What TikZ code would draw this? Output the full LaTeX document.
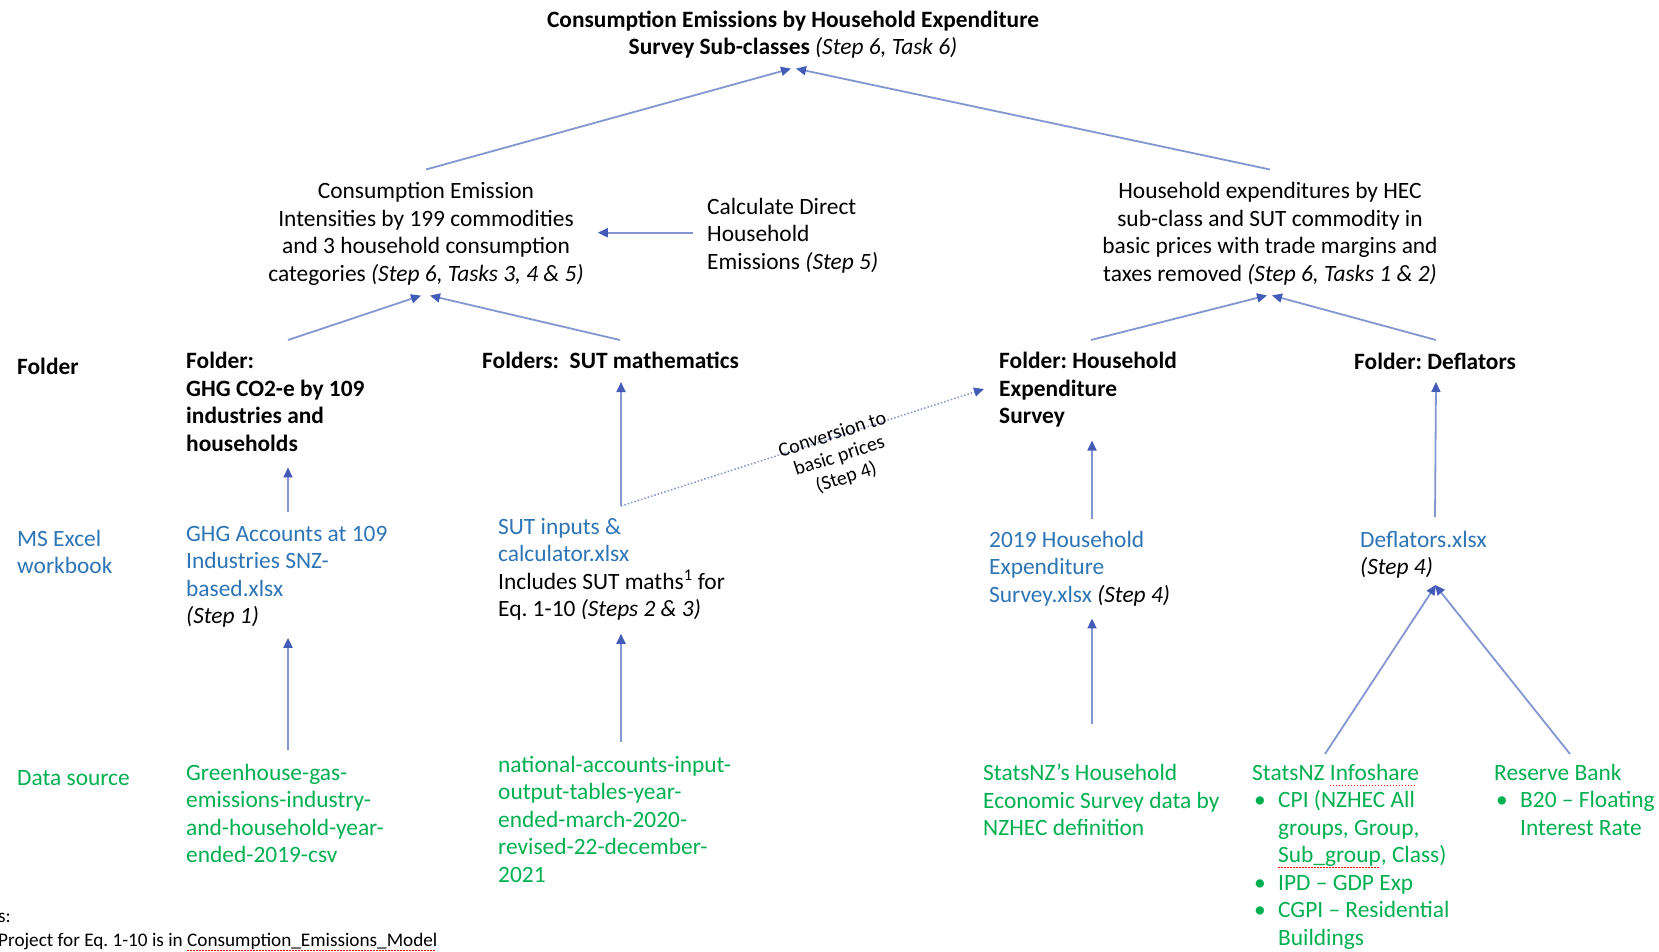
\documentclass[tikz,border=0pt]{standalone}
\usepackage{fontspec}
\setmainfont{Carlito}
\usepackage{tikz}
\usetikzlibrary{arrows.meta, positioning}
\definecolor{linkblue}{RGB}{132,150,210}
\definecolor{tipblue}{RGB}{66,92,184}
\definecolor{xlblue}{RGB}{46,117,182}
\definecolor{srcgreen}{RGB}{0,176,80}
\newcommand{\squig}[1]{\setbox0=\hbox{#1}\rlap{\color{red}\leaders\hbox to 3pt{\rule[-5pt]{1.5pt}{0.9pt}\hss}\hskip\wd0}\box0}

\begin{document}
\frenchspacing
\begin{tikzpicture}[
        x=1pt, y=-1pt,
        >={Triangle[length=10pt, width=9pt, color=tipblue]},
        txt/.style={inner sep=0pt, anchor=north west, align=left, font=\fontsize{23.4}{27.5}\selectfont},
        hdr/.style={txt, font=\fontsize{23.4}{27.5}\selectfont\bfseries},
        mid/.style={txt, anchor=north, align=center},
        xl/.style={txt, text=xlblue},
        src/.style={txt, text=srcgreen},
        note/.style={txt, font=\fontsize{19.2}{23.5}\selectfont},
        link/.style={->, line width=1.8pt, draw=linkblue},
        convert/.style={->, dotted, line width=1.5pt, draw=linkblue}
    ]
        \path[use as bounding box, fill=white] (0,0) rectangle (1659,952);

        \node[mid, font=\fontsize{23.4}{27.5}\selectfont\bfseries] (title) at (793,10.5) {Consumption Emissions by Household Expenditure\\Survey Sub-classes {\mdseries\itshape (Step 6, Task 6)}};
        \node[mid] (intens) at (426,182.5) {Consumption Emission\\Intensities by 199 commodities\\and 3 household consumption\\categories \textit{(Step 6, Tasks 3, 4 \& 5)}};
        \node[txt] (direct) at (707,198) {Calculate Direct\\Household\\Emissions \textit{(Step 5)}};
        \node[mid] (hhexp) at (1270,182.5) {Household expenditures by HEC\\sub-class and SUT commodity in\\basic prices with trade margins and\\taxes removed \textit{(Step 6, Tasks 1 \& 2)}};

        % row labels
        \node[hdr] (rowfolder) at (17,358) {Folder};
        \node[xl] (rowexcel) at (17,530) {MS Excel\\workbook};
        \node[src] (rowsource) at (17,770) {Data source};

        % folders
        \node[hdr] (fghg) at (186,352) {Folder:\\GHG CO2-e by 109\\industries and\\households};
        \node[hdr] (fsut) at (482,352) {Folders:\ \ SUT mathematics};
        \node[hdr] (fhes) at (999,352) {Folder: Household\\Expenditure\\Survey};
        \node[hdr] (fdefl) at (1354,353) {Folder: Deflators};

        % workbooks
        \node[xl] (xghg) at (186,526) {GHG Accounts at 109\\Industries SNZ-\\based.xlsx\\\textcolor{black}{\textit{(Step 1)}}};
        \node[xl] (xsut) at (498,518) {SUT inputs \&\\calculator.xlsx\\\textcolor{black}{Includes SUT maths\textsuperscript{1} for}\\\textcolor{black}{Eq. 1-10 \textit{(Steps 2 \& 3)}}};
        \node[xl] (xhes) at (989,531) {2019 Household\\Expenditure\\Survey.xlsx \textcolor{black}{\textit{(Step 4)}}};
        \node[xl] (xdefl) at (1360,531) {Deflators.xlsx\\\textcolor{black}{\textit{(Step 4)}}};

        % data sources
        \node[src] (sghg) at (186,764) {Greenhouse-gas-\\emissions-industry-\\and-household-year-\\ended-2019-csv};
        \node[src] (ssut) at (498,756) {national-accounts-input-\\output-tables-year-\\ended-march-2020-\\revised-22-december-\\2021};
        \node[src] (shes) at (983,764) {StatsNZ’s Household\\Economic Survey data by\\NZHEC definition};
        \node[src] (sinfo) at (1252,764) {StatsNZ \squig{Infoshare}\\
            \makebox[26pt][l]{\hspace{2pt}•}CPI (NZHEC All\\
            \hspace*{26pt}groups, Group,\\
            \hspace*{26pt}\squig{Sub\_group}, Class)\\
            \makebox[26pt][l]{\hspace{2pt}•}IPD – GDP Exp\\
            \makebox[26pt][l]{\hspace{2pt}•}CGPI – Residential\\
            \hspace*{26pt}Buildings};
        \node[src] (srbnz) at (1494,764) {Reserve Bank\\
            \makebox[26pt][l]{\hspace{2pt}•}B20 – Floating\\
            \hspace*{26pt}Interest Rate};

        \node[note] (notes) at (-2,913) {s:\\Project for Eq. 1-10 is in \squig{Consumption\_Emissions\_Model}};

        % into the title
        \draw[link] ([yshift=13pt]intens.north) -- ([xshift=-2pt,yshift=-10pt]title.south);
        \draw[link] ([yshift=13pt]hhexp.north) -- ([xshift=3pt,yshift=-10pt]title.south);

        % into the two middle blocks
        \draw[link] ([xshift=102pt,yshift=12pt]fghg.north west) -- ([xshift=-5pt,yshift=-10pt]intens.south);
        \draw[link] ([xshift=138pt,yshift=12pt]fsut.north west) -- ([xshift=4pt,yshift=-10pt]intens.south);
        \draw[link] ([xshift=-14pt,yshift=3pt]direct.west) -- ([xshift=14pt,yshift=3pt]intens.east |- direct.west);
        \draw[link] ([xshift=92pt,yshift=12pt]fhes.north west) -- ([xshift=-3pt,yshift=-10pt]hhexp.south);
        \draw[link] ([xshift=82pt,yshift=13pt]fdefl.north west) -- ([xshift=2pt,yshift=-10pt]hhexp.south);

        % workbook -> folder
        \draw[link] ([xshift=102pt,yshift=14pt]xghg.north west) -- ([xshift=102pt,yshift=-16pt]fghg.south west);
        \draw[link] ([xshift=123pt,yshift=12pt]xsut.north west) -- ([xshift=139pt,yshift=-13pt]fsut.south west);
        \draw[link] ([xshift=103pt,yshift=12pt]xhes.north west) -- ([xshift=93pt,yshift=-13pt]fhes.south west);
        \draw[link] ([xshift=75pt,yshift=14pt]xdefl.north west) -- ([xshift=82pt,yshift=-12pt]fdefl.south west);
        \draw[convert] ([xshift=123pt,yshift=12pt]xsut.north west) -- node[pos=0.585, sloped, yshift=-20pt, inner sep=0pt, align=center, font=\fontsize{20}{22.5}\selectfont] (convlbl) {Conversion to\\basic prices\\(Step 4)} ([xshift=-15pt,yshift=-37pt]fhes.north west);

        % source -> workbook
        \draw[link] ([xshift=102pt,yshift=14pt]sghg.north west) -- ([xshift=102pt,yshift=-10pt]xghg.south west);
        \draw[link] ([xshift=123pt,yshift=14pt]ssut.north west) -- ([xshift=123pt,yshift=-13pt]xsut.south west);
        \draw[link] ([xshift=109pt,yshift=40pt]shes.north west) -- ([xshift=103pt,yshift=-12pt]xhes.south west);
        \draw[link] ([xshift=73pt,yshift=10pt]sinfo.north west) -- ([xshift=76pt,yshift=-6pt]xdefl.south west);
        \draw[link] ([xshift=76pt,yshift=10pt]srbnz.north west) -- ([xshift=75pt,yshift=-6pt]xdefl.south west);
    \end{tikzpicture}
\end{document}
